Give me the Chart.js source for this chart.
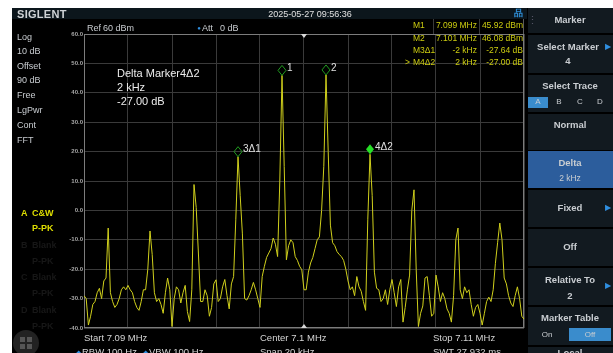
<!DOCTYPE html>
<html>
<head>
<meta charset="utf-8">
<script src="https://cdn.jsdelivr.net/npm/chart.js@4/dist/chart.umd.min.js"></script>
<style>
body{margin:0;background:#fff;width:613px;height:353px;overflow:hidden;font-family:"Liberation Sans",Arial,sans-serif;position:relative}
.box{position:absolute}
.t{position:absolute;white-space:nowrap;transform:translateY(-50%);line-height:1}
.r{transform:translate(-100%,-50%)}
.c{transform:translate(-50%,-50%)}
#chart{position:absolute;left:0;top:0;z-index:2}
.ov{z-index:3}
</style>
</head>
<body>
<div class="box" style="left:12px;top:8px;width:601px;height:345px;background:#000"></div>
<div class="box" style="left:12px;top:8px;width:515px;height:11px;background:#0c161c"></div>
<div id="panel"></div>
<canvas id="chart" width="613" height="353"></canvas>
<div id="texts"></div>
<script>
// sweep settings (MHz)
const startMHz = 7.09;
const stopMHz = 7.11;

// trace A, dBm, one value every 0.1 kHz across the 20 kHz span
const traceDbm = [
  -29, -30, -39, -36, -32, -31, -28, -26.5, -30, -24,
  -23, -6, -28, -31, -33, -32, -30, -27, -26, -27,
  -25.5, -27, -28, -31, -33, -34, -31, -27, -27, -20,
  -7, -15, -28, -31, -30, -32, -35, -28, -23, -27,
  -39.5, -30, -26, -27, -31.5, -28, -25.5, -34.4, -37.8, -27,
  8.8, 1, -14.5, -31, -31, -27, -29, -36, -33, -25,
  -23.6, -31, -30, -26, -23.5, -29, -33.5, -25, -22.5, -3,
  18.28, 5, -8, -30, -30.5, -29, -27, -24.5, -27, -30,
  -33, -22.5, -19, -16, -14.5, -13, -9.4, -11.5, -15.7, 10,
  45.92, 15, -16.8, -12, -10, -11, -15.7, -17, -19, -20.2,
  -27, -27, -21, -17.9, -16, -13, -10, -9, 0, 15,
  46.08, 20, -5, -11, -12, -14, -15, -15.7, -17, -20,
  -24, -27, -26, -29, -22.5, -26, -27.5, -31, -34, -3,
  19.08, 5, -21, -26.5, -27, -31, -30, -27, -32, -27,
  -23.5, -28, -32.7, -26, -23.5, -38, -33, -27, -22, 0,
  7, -20, -39.5, -35, -32.5, -23, -22.5, -29, -36, -35,
  -22, -26, -31, -28, -30, -33.5, -35, -38, -29, -10,
  -6, -27, -30, -26, -28, -27, -32, -36, -33, -32,
  -35, -39, -35, -31, -29.5, -31, -27, -18, -11, -4.3,
  -10, -23, -25, -29, -31.5, -32.7, -29, -26, -30, -36,
  -37
];

// markers
const markerNames = ['1', '2', '3Δ1', '4Δ2'];
const markerFreqMHz = [7.099, 7.101, 7.097, 7.103];
const markerDbm = [45.92, 46.08, 18.28, 19.08];
const activeMarker = 3;

// marker table rows
const tableNames = ['M1', 'M2', 'M3Δ1', 'M4Δ2'];
const tableFreq = ['7.099 MHz', '7.101 MHz', '-2 kHz', '2 kHz'];
const tableAmp = ['45.92 dBm', '46.08 dBm', '-27.64 dB', '-27.00 dB'];

const yTicks = [60, 50, 40, 30, 20, 10, 0, -10, -20, -30, -40];

const stepMHz = (stopMHz - startMHz) / (traceDbm.length - 1);
const points = traceDbm.map((v, i) => ({ x: startMHz + i * stepMHz, y: v }));

const markerPlugin = {
  id: 'markers',
  beforeDatasetsDraw(c) {
    const { ctx, chartArea: a } = c;
    ctx.save();
    ctx.strokeStyle = '#7c7c7c';
    ctx.lineWidth = 1;
    ctx.strokeRect(a.left + 0.5, a.top + 0.5, a.right - a.left - 1, a.bottom - a.top - 1);
    // center markers
    const cx = c.scales.x.getPixelForValue((startMHz + stopMHz) / 2);
    ctx.fillStyle = '#d8d8d8';
    ctx.beginPath(); ctx.moveTo(cx - 3, a.top); ctx.lineTo(cx + 3, a.top); ctx.lineTo(cx, a.top + 4); ctx.fill();
    ctx.beginPath(); ctx.moveTo(cx - 3, a.bottom); ctx.lineTo(cx + 3, a.bottom); ctx.lineTo(cx, a.bottom - 4); ctx.fill();
    ctx.restore();
  },
  afterDatasetsDraw(c) {
    const { ctx, scales: { x, y } } = c;
    ctx.save();
    ctx.font = '10px "Liberation Sans", Arial';
    ctx.textBaseline = 'middle';
    markerFreqMHz.forEach((f, i) => {
      const px = x.getPixelForValue(f);
      const py = y.getPixelForValue(markerDbm[i]) - 5;
      ctx.beginPath();
      ctx.moveTo(px, py - 5); ctx.lineTo(px + 4, py); ctx.lineTo(px, py + 5); ctx.lineTo(px - 4, py);
      ctx.closePath();
      if (i === activeMarker) {
        ctx.fillStyle = '#26e026'; ctx.fill();
      } else {
        ctx.strokeStyle = '#1f9a1f'; ctx.lineWidth = 1; ctx.stroke();
      }
      ctx.fillStyle = '#e0e0e0';
      ctx.fillText(markerNames[i], px + 5, py - 2);
    });
    ctx.restore();
  }
};

new Chart(document.getElementById('chart'), {
  type: 'line',
  data: {
    datasets: [{
      data: points,
      borderColor: '#d0d01c',
      borderWidth: 1,
      pointRadius: 0,
      tension: 0
    }]
  },
  options: {
    responsive: false,
    animation: false,
    layout: { padding: { left: 0, top: 34, right: 89, bottom: 25 } },
    plugins: { legend: { display: false }, tooltip: { enabled: false } },
    scales: {
      x: {
        type: 'linear', min: startMHz, max: stopMHz,
        ticks: { display: false, count: 11 },
        grid: { color: '#3a3a3a', drawTicks: false },
        border: { display: false },
        afterFit(s) { s.height = 0; }
      },
      y: {
        min: -40, max: 60,
        afterBuildTicks(s) { s.ticks = yTicks.map(v => ({ value: v })); },
        ticks: {
          color: '#a8a8a8', padding: 1,
          font: { size: 6, weight: 'bold', family: '"Liberation Sans", Arial' },
          callback: v => v.toFixed(1)
        },
        grid: { color: '#3a3a3a', drawTicks: false },
        border: { display: false },
        afterFit(s) { s.width = 84; }
      }
    }
  },
  plugins: [markerPlugin]
});

// --- screen furniture (DOM) ---
const texts = document.getElementById('texts');
function label(txt, x, y, style, cls) {
  const d = document.createElement('div');
  d.className = 't ov ' + (cls || '');
  d.style.left = x + 'px';
  d.style.top = y + 'px';
  d.style.cssText += style || '';
  d.textContent = txt;
  texts.appendChild(d);
  return d;
}
function rect(x, y, w, h, bg, extra) {
  const d = document.createElement('div');
  d.className = 'box';
  d.style.cssText = `left:${x}px;top:${y}px;width:${w}px;height:${h}px;background:${bg};${extra || ''}`;
  document.getElementById('panel').appendChild(d);
  return d;
}

const grey = 'color:#c8ccd0;font-size:9px;';
label('SIGLENT', 17, 14, 'color:#cfd3d6;font-size:11px;font-weight:bold;letter-spacing:0.3px;');
label('2025-05-27 09:56:36', 310, 14, 'color:#e0e0e0;font-size:9px;', 'c');
label('品', 518, 13, 'color:#2f8fd8;font-size:9px;font-weight:bold;', 'c');

label('Ref', 87, 28, grey);
label('60 dBm', 103, 28, grey);
label('●', 199, 28, 'color:#2f8fe0;font-size:6px;', 'c');
label('Att', 202, 28, grey);
label('0 dB', 220, 28, grey);

// marker table
const rowY = [25, 38, 50, 62];
tableNames.forEach((n, i) => {
  const s = 'color:#cccc10;font-size:8.5px;';
  if (i === activeMarker) label('>', 405, rowY[i], s);
  label(n, 413, rowY[i], s);
  label(tableFreq[i], 477, rowY[i], s, 'r');
  label(tableAmp[i], 523, rowY[i], s, 'r');
});
rect(433, 19, 1, 15, '#3a3a3a', 'z-index:2');
rect(479, 19, 1, 15, '#3a3a3a', 'z-index:2');
rect(523, 19, 1, 15, '#5a5a5a', 'z-index:2');

// annotation
const ann = 'color:#ececec;font-size:11px;';
label('Delta Marker4Δ2', 117, 73, ann);
label('2 kHz', 117, 87, ann);
label('-27.00 dB', 117, 101, ann);

// left settings
[['Log', 37], ['10 dB', 51], ['Offset', 66], ['90 dB', 80], ['Free', 95], ['LgPwr', 110], ['Cont', 125], ['FFT', 140]]
  .forEach(([s, y]) => label(s, 17, y, grey));
const yel = 'color:#dede00;font-size:9px;font-weight:bold;';
label('A', 21, 213, yel); label('C&W', 32, 213, yel); label('P-PK', 32, 228, yel);
const dim = 'color:#171717;font-size:9px;font-weight:bold;';
[['B', 245], ['C', 277], ['D', 310]].forEach(([s, y]) => {
  label(s, 21, y, dim); label('Blank', 32, y, dim); label('P-PK', 32, y + 16, dim);
});
rect(13, 330, 26, 26, '#222', 'border-radius:50%;z-index:1');
rect(20, 337, 5, 5, '#555', 'z-index:1'); rect(27, 337, 5, 5, '#555', 'z-index:1');
rect(20, 344, 5, 5, '#555', 'z-index:1'); rect(27, 344, 5, 5, '#555', 'z-index:1');

// bottom info
const bt = 'color:#d4d4d4;font-size:9.5px;';
label('Start  7.09 MHz', 84, 338, bt);
label('Center  7.1 MHz', 260, 338, bt);
label('Stop  7.11 MHz', 433, 338, bt);
label('◆', 78, 352, 'color:#2f8fe0;font-size:7px;', 'c');
label('RBW  100 Hz', 82, 352, bt);
label('◆', 145, 352, 'color:#2f8fe0;font-size:7px;', 'c');
label('VBW  100 Hz', 149, 352, bt);
label('Span  20 kHz', 260, 352, bt);
label('SWT  27.932 ms', 433, 352, bt);

// right soft-key panel
const btn = '#121a20';
const pb = 'color:#c9cdd1;font-size:9.5px;font-weight:bold;';
rect(528, 8, 85, 25, btn);
label('⋮', 532, 20, 'color:#556;font-size:11px;', 'c');
label('Marker', 570, 20, pb, 'c');
rect(528, 35, 85, 38, btn);
label('Select Marker', 568, 47, pb, 'c'); label('4', 568, 61, pb, 'c');
label('▶', 608, 47, 'color:#2f8fe0;font-size:8px;', 'c');
rect(528, 75, 85, 37, btn);
label('Select Trace', 570, 86, pb, 'c');
rect(528, 97, 20, 11, '#3a8ccc');
[['A', 538], ['B', 559], ['C', 580], ['D', 600]].forEach(([s, x]) => label(s, x, 102, 'color:#c9cdd1;font-size:8px;', 'c'));
rect(528, 114, 85, 36, btn);
label('Normal', 570, 125, pb, 'c');
rect(528, 151, 85, 37, '#2c5d9c');
label('Delta', 570, 163, pb, 'c'); label('2 kHz', 570, 178, 'color:#c9cdd1;font-size:8.5px;', 'c');
rect(528, 190, 85, 37, btn);
label('Fixed', 570, 208, pb, 'c');
label('▶', 608, 208, 'color:#2f8fe0;font-size:8px;', 'c');
rect(528, 229, 85, 37, btn);
label('Off', 570, 247, pb, 'c');
rect(528, 268, 85, 37, btn);
label('Relative To', 570, 280, pb, 'c'); label('2', 570, 296, pb, 'c');
label('▶', 608, 286, 'color:#2f8fe0;font-size:8px;', 'c');
rect(528, 307, 85, 38, btn);
label('Marker Table', 570, 318, pb, 'c');
rect(569, 328, 42, 13, '#3a8ccc');
label('On', 547, 335, 'color:#c9cdd1;font-size:8px;', 'c');
label('Off', 590, 335, 'color:#c9cdd1;font-size:8px;', 'c');
rect(528, 347, 85, 10, btn);
label('Local', 570, 353, pb, 'c');
</script>
</body>
</html>
